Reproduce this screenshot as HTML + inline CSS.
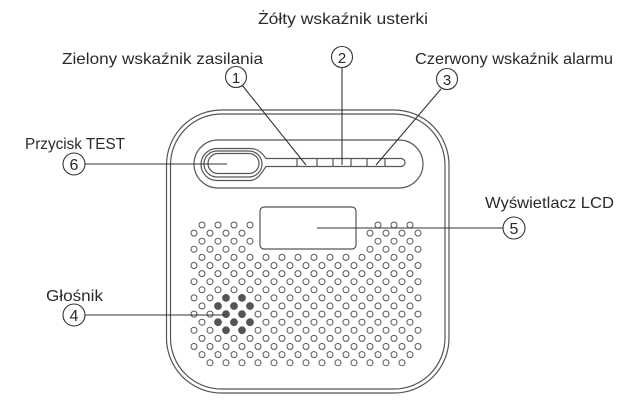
<!DOCTYPE html>
<html><head><meta charset="utf-8"><style>
html,body{margin:0;padding:0;background:#fff}
svg{display:block}
text{font-family:"Liberation Sans Narrow","Liberation Sans",sans-serif;fill:#2a2a2a}
</style></head><body>
<svg width="622" height="401" viewBox="0 0 622 401" xmlns="http://www.w3.org/2000/svg">
<g fill="none" stroke="#555" stroke-width="1.2">
<rect x="166.5" y="110" width="282.5" height="283" rx="55"/>
<rect x="170.5" y="114" width="274.5" height="275" rx="51"/>
<rect x="194" y="140" width="229" height="48" rx="24"/>
<path d="M217 148.5 H250 C258 148.5 262 153 266 158.5 H401 A4 4 0 0 1 401 166.5 H266 C262 172 258 180.5 250 180.5 H217 A16 16 0 0 1 217 148.5 Z"/>
<rect x="204" y="151" width="58" height="26" rx="13"/>
<rect x="208" y="153.5" width="51" height="20" rx="10"/>
<path d="M297 158.5 V166.5 M317 158.5 V166.5 M333 158.5 V166.5 M351 158.5 V166.5 M367 158.5 V166.5 M385 158.5 V166.5"/>
<rect x="260" y="207" width="96" height="42" rx="4"/>
</g>
<g id="holes" fill="none" stroke="#555" stroke-width="1"></g>
<g stroke="#333" stroke-width="1.1" fill="none">
<line x1="242" y1="85" x2="306" y2="165"/>
<line x1="342" y1="68" x2="342" y2="165"/>
<line x1="441" y1="89" x2="376" y2="165"/>
<line x1="85" y1="164" x2="227" y2="164"/>
<line x1="317" y1="228" x2="503" y2="228"/>
<line x1="85" y1="315" x2="225" y2="315"/>
<circle cx="236" cy="77" r="10.5"/>
<circle cx="342" cy="57" r="10.5"/>
<circle cx="447" cy="79" r="10.5"/>
<circle cx="74" cy="164" r="11"/>
<circle cx="514" cy="228" r="11"/>
<circle cx="74" cy="315" r="11"/>
</g>
<g font-size="15" text-anchor="middle">
<text x="236" y="83">1</text><text x="342" y="63">2</text><text x="447" y="85">3</text>
<text x="74" y="170" font-size="16">6</text><text x="514" y="234" font-size="16">5</text><text x="74" y="321" font-size="16">4</text>
</g>
<g font-size="16">
<text x="258" y="24" textLength="170" lengthAdjust="spacingAndGlyphs">Żółty wskaźnik usterki</text>
<text x="62" y="64" textLength="201" lengthAdjust="spacingAndGlyphs">Zielony wskaźnik zasilania</text>
<text x="415" y="64" textLength="198" lengthAdjust="spacingAndGlyphs">Czerwony wskaźnik alarmu</text>
<text x="25" y="149" textLength="100" lengthAdjust="spacingAndGlyphs">Przycisk TEST</text>
<text x="485" y="208" textLength="129" lengthAdjust="spacingAndGlyphs">Wyświetlacz LCD</text>
<text x="46" y="301" textLength="57" lengthAdjust="spacingAndGlyphs">Głośnik</text>
</g>
<script>
(function(){
var g=document.getElementById('holes'),ns='http://www.w3.org/2000/svg';
var dark={9:[226,242],10:[218,234,250],11:[226,242],12:[218,234,250],13:[226,242]};
for(var r=0;r<18;r++){
 var y=225+r*8.1;
 var odd=r%2==1;
 var x0=odd?194:202,x1=odd?422:414;
 for(var x=x0;x<=x1;x+=16){
  if(y<253&&x>252&&x<364)continue;
  if(r==17&&(x<205||x>411))continue;
  var d=dark[r]&&dark[r].indexOf(x)>=0;
  var c=document.createElementNS(ns,'circle');
  c.setAttribute('cx',x);c.setAttribute('cy',y);c.setAttribute('r',d?3.4:3);
  if(d){c.setAttribute('fill','#555');}
  g.appendChild(c);
 }
}
})();
</script>
</svg>
</body></html>
